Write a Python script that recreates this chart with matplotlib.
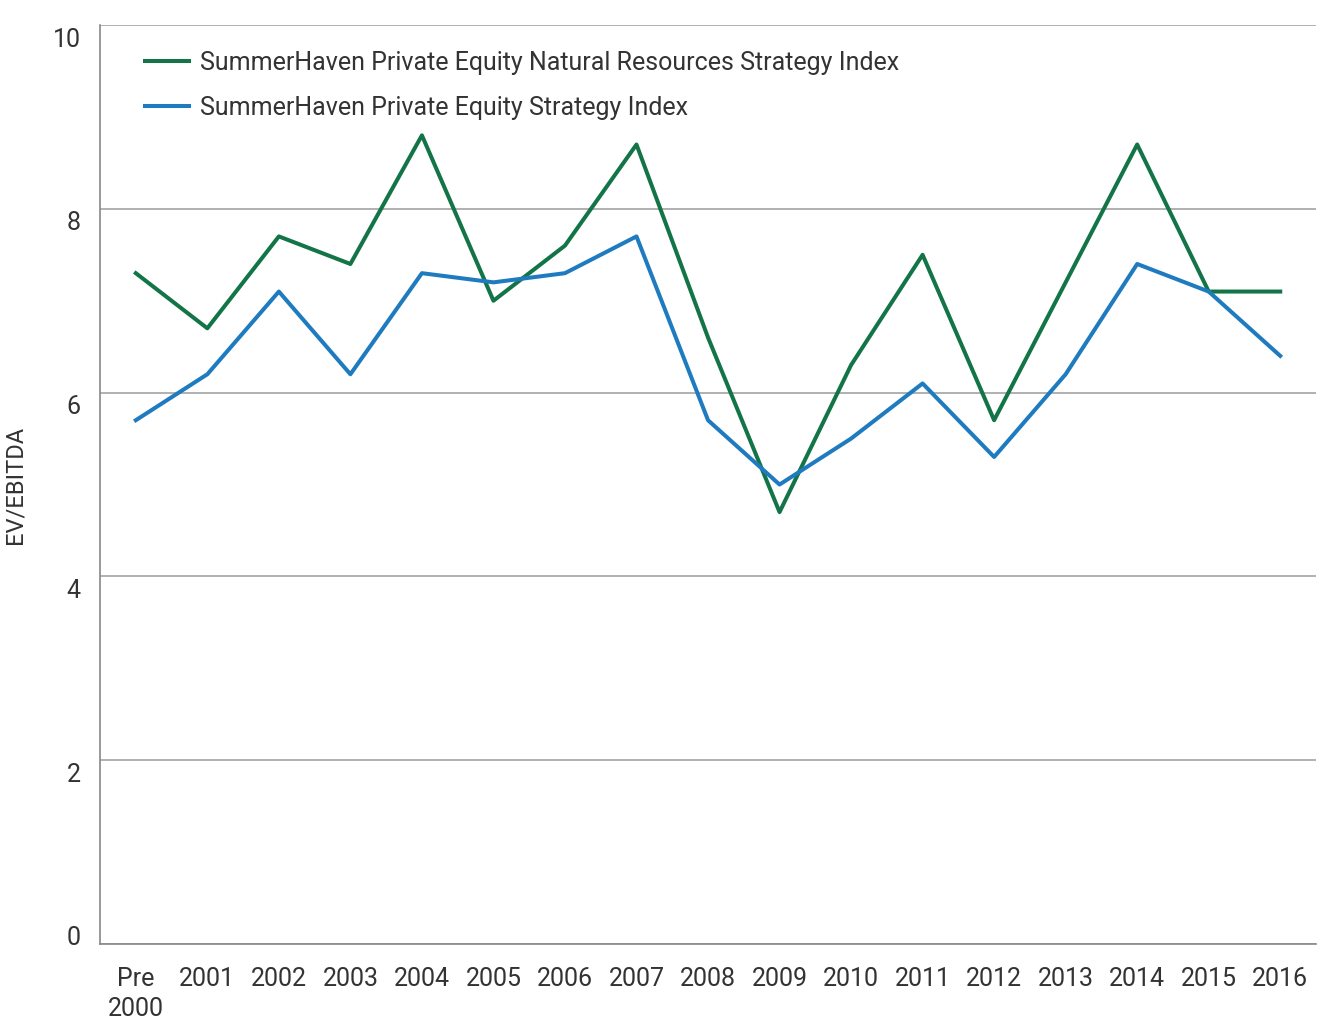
import matplotlib.pyplot as plt
from matplotlib.transforms import ScaledTranslation

# EV/EBITDA by vintage year
years = ['Pre\n2000', '2001', '2002', '2003', '2004', '2005', '2006', '2007', '2008',
         '2009', '2010', '2011', '2012', '2013', '2014', '2015', '2016']
nat_res = [7.3, 6.7, 7.7, 7.4, 8.8, 7.0, 7.6, 8.7, 6.6, 4.7, 6.3, 7.5, 5.7, 7.2, 8.7, 7.1, 7.1]
pe_index = [5.7, 6.2, 7.1, 6.2, 7.3, 7.2, 7.3, 7.7, 5.7, 5.0, 5.5, 6.1, 5.3, 6.2, 7.4, 7.1, 6.4]
yticks = [0, 2, 4, 6, 8, 10]

plt.rcParams['font.family'] = ['Roboto', 'DejaVu Sans']

fig = plt.figure(figsize=(13.27, 10.35), dpi=100)
ax = fig.add_axes([0.0754, 0.0879, 0.9163, 0.8879])

x = list(range(len(years)))
ax.plot(x, nat_res, color='#137547', lw=2.9,
        label='SummerHaven Private Equity Natural Resources Strategy Index')
ax.plot(x, pe_index, color='#1f7bbf', lw=2.9,
        label='SummerHaven Private Equity Strategy Index')

ax.set_xlim(-0.5, 16.5)
ax.set_ylim(0, 10)
ax.set_yticks(yticks)
ax.set_xticks(x)
ax.set_xticklabels(years, fontsize=18, color='#333333', linespacing=1.3)
ax.tick_params(axis='y', labelsize=18, colors='#333333', length=0, pad=14)
ax.tick_params(axis='x', length=0, pad=16.5)

# tick labels sit a little below their gridlines, 0 sits above the axis
for lab, v in zip(ax.get_yticklabels(), yticks):
    dy = 9 if v == 0 else -12
    lab.set_transform(lab.get_transform() + ScaledTranslation(0, dy / 72 * 0.72, fig.dpi_scale_trans))

ax.grid(axis='y', color='#aaaaaa', lw=1.3)
ax.set_axisbelow(True)
for s in ['right', 'top']:
    ax.spines[s].set_visible(False)
for s in ['left', 'bottom']:
    ax.spines[s].set_color('#888888')
    ax.spines[s].set_linewidth(1.2)

ax.set_ylabel('EV/EBITDA', fontsize=17, color='#333333', labelpad=19)

leg = ax.legend(loc='upper left', bbox_to_anchor=(0.037, 0.972), frameon=False,
                borderpad=0, borderaxespad=0,
                fontsize=18, handlelength=1.75, handletextpad=0.45, labelspacing=0.84)
for t in leg.get_texts():
    t.set_color('#333333')

fig.savefig('out.png', dpi=100)
